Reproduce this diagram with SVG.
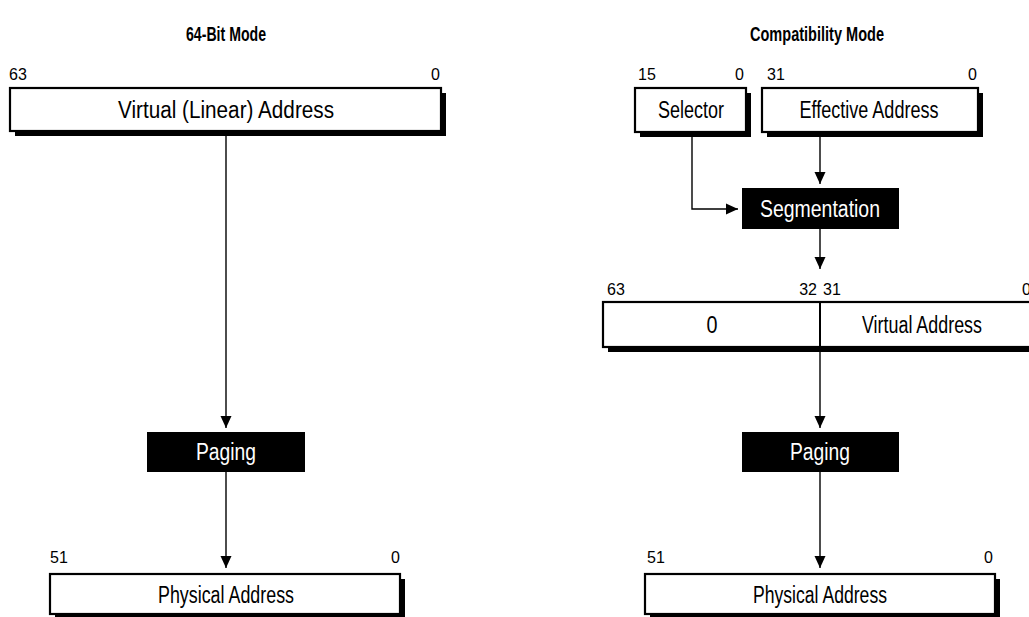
<svg xmlns="http://www.w3.org/2000/svg" width="1029" height="617" viewBox="0 0 1029 617">
<style>
.box{fill:#fff;stroke:#000;stroke-width:2.2}
.sh{fill:#000}
.blk{fill:#000}
.lbl{font-family:"Liberation Sans",Arial,sans-serif;font-size:23px;fill:#000;text-anchor:middle}
.wl{font-family:"Liberation Sans",Arial,sans-serif;font-size:23px;fill:#fff;text-anchor:middle}
.num{font-family:"Liberation Sans",Arial,sans-serif;font-size:16px;fill:#000}
.ttl{font-family:"Liberation Sans",Arial,sans-serif;font-size:21px;font-weight:bold;fill:#000;text-anchor:middle}
.con{fill:none;stroke:#000;stroke-width:1.4}
</style>
<defs>
<marker id="ah" markerUnits="userSpaceOnUse" markerWidth="12" markerHeight="12" viewBox="0 0 12 12" refX="12" refY="6" orient="auto">
<path d="M0,0.5 L12,6 L0,11.5 Z" fill="#000"/>
</marker>
</defs>

<text class="ttl" x="226" y="41" textLength="80" lengthAdjust="spacingAndGlyphs">64-Bit Mode</text>
<text class="ttl" x="817" y="41" textLength="134" lengthAdjust="spacingAndGlyphs">Compatibility Mode</text>

<g id="connectors">
<line class="con" x1="226" y1="131" x2="226" y2="428" marker-end="url(#ah)"/>
<line class="con" x1="226" y1="472" x2="226" y2="568" marker-end="url(#ah)"/>
<line class="con" x1="820" y1="132" x2="820" y2="184" marker-end="url(#ah)"/>
<path class="con" d="M692,132 V209 H738" marker-end="url(#ah)"/>
<line class="con" x1="820" y1="229" x2="820" y2="269" marker-end="url(#ah)"/>
<line class="con" x1="820" y1="352" x2="820" y2="428" marker-end="url(#ah)"/>
<line class="con" x1="820" y1="472" x2="820" y2="568" marker-end="url(#ah)"/>
</g>

<g id="virtual-linear">
<text class="num" x="9" y="80">63</text>
<text class="num" x="440" y="80" text-anchor="end">0</text>
<rect class="sh" x="15" y="93" width="431" height="43"/>
<rect class="box" x="10" y="88" width="431" height="43"/>
<text class="lbl" x="226" y="118" textLength="216" lengthAdjust="spacingAndGlyphs">Virtual (Linear) Address</text>
</g>

<g id="paging-left">
<rect class="blk" x="147" y="432" width="158" height="40"/>
<text class="wl" x="226" y="460" textLength="60" lengthAdjust="spacingAndGlyphs">Paging</text>
</g>

<g id="physical-left">
<text class="num" x="50" y="563">51</text>
<text class="num" x="400" y="563" text-anchor="end">0</text>
<rect class="sh" x="55" y="579" width="350" height="40"/>
<rect class="box" x="50" y="574" width="350" height="40"/>
<text class="lbl" x="226" y="603" textLength="136" lengthAdjust="spacingAndGlyphs">Physical Address</text>
</g>

<g id="selector">
<text class="num" x="638" y="80">15</text>
<text class="num" x="744" y="80" text-anchor="end">0</text>
<rect class="sh" x="640" y="93" width="111" height="44"/>
<rect class="box" x="635" y="88" width="111" height="44"/>
<text class="lbl" x="691" y="118" textLength="66" lengthAdjust="spacingAndGlyphs">Selector</text>
</g>

<g id="effective">
<text class="num" x="767" y="80">31</text>
<text class="num" x="977" y="80" text-anchor="end">0</text>
<rect class="sh" x="767" y="93" width="216" height="44"/>
<rect class="box" x="762" y="88" width="216" height="44"/>
<text class="lbl" x="869" y="118" textLength="139" lengthAdjust="spacingAndGlyphs">Effective Address</text>
</g>

<g id="segmentation">
<rect class="blk" x="742" y="188" width="157" height="41"/>
<text class="wl" x="820" y="217" textLength="120" lengthAdjust="spacingAndGlyphs">Segmentation</text>
</g>

<g id="virtual-compat">
<text class="num" x="607" y="295">63</text>
<text class="num" x="817" y="295" text-anchor="end">32</text>
<text class="num" x="823" y="295">31</text>
<text class="num" x="1022" y="295">0</text>
<rect class="sh" x="608" y="307" width="434" height="45"/>
<rect class="box" x="603" y="302" width="434" height="45"/>
<line x1="820" y1="302" x2="820" y2="352" stroke="#000" stroke-width="2"/>
<text class="lbl" x="712" y="333" textLength="11" lengthAdjust="spacingAndGlyphs">0</text>
<text class="lbl" x="922" y="333" textLength="120" lengthAdjust="spacingAndGlyphs">Virtual Address</text>
</g>

<g id="paging-right">
<rect class="blk" x="742" y="432" width="157" height="40"/>
<text class="wl" x="820" y="460" textLength="60" lengthAdjust="spacingAndGlyphs">Paging</text>
</g>

<g id="physical-right">
<text class="num" x="647" y="563">51</text>
<text class="num" x="993" y="563" text-anchor="end">0</text>
<rect class="sh" x="650" y="579" width="350" height="40"/>
<rect class="box" x="645" y="574" width="350" height="40"/>
<text class="lbl" x="820" y="603" textLength="134" lengthAdjust="spacingAndGlyphs">Physical Address</text>
</g>
</svg>
